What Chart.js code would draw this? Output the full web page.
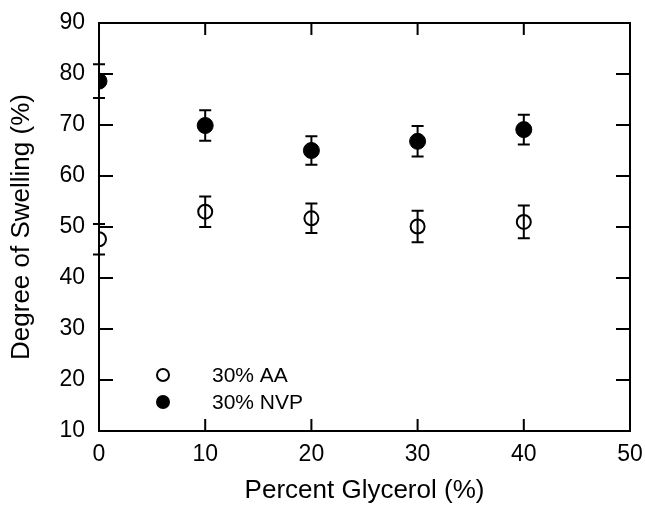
<!DOCTYPE html>
<html>
<head>
<meta charset="utf-8">
<script src="https://cdn.jsdelivr.net/npm/chart.js@4"></script>
<style>
  html, body { margin: 0; padding: 0; background: #fff; }
  #wrap { width: 645px; height: 506px; }
</style>
</head>
<body>
<div id="wrap"><canvas id="myChart"></canvas></div>
<script>
// --- données ---
const glycerol = [0, 10, 20, 30, 40];
const aaValues = [47.6, 53.0, 51.7, 50.1, 51.0];
const aaErr = [3.0, 3.0, 2.9, 3.1, 3.2];
const nvpValues = [78.6, 69.9, 65.0, 66.8, 69.1];
const nvpErr = [3.3, 3.0, 2.8, 3.0, 2.9];
const seriesLabels = ['30% AA', '30% NVP'];
const xTicks = [0, 10, 20, 30, 40, 50];
const yTicks = [10, 20, 30, 40, 50, 60, 70, 80, 90];

const FONT = "'Liberation Sans', Arial, sans-serif";

const toPoints = (xs, ys) => xs.map((x, i) => ({ x: x, y: ys[i] }));

// barres d'erreur, cadre, graduations internes et légende
const decorPlugin = {
    id: 'decor',
    afterDatasetsDraw(chart) {
        const { ctx, chartArea: a, scales: { x, y } } = chart;
        ctx.save();
        ctx.strokeStyle = '#000';
        ctx.lineWidth = 2;

        // barres d'erreur
        const errs = [aaErr, nvpErr];
        chart.data.datasets.forEach((ds, k) => {
            ds.data.forEach((p, i) => {
                const px = x.getPixelForValue(p.x);
                const top = y.getPixelForValue(p.y + errs[k][i]);
                const bot = y.getPixelForValue(p.y - errs[k][i]);
                ctx.beginPath();
                ctx.moveTo(px, top); ctx.lineTo(px, bot);
                ctx.moveTo(px - 6, top); ctx.lineTo(px + 6, top);
                ctx.moveTo(px - 6, bot); ctx.lineTo(px + 6, bot);
                ctx.stroke();
            });
        });

        // cadre
        ctx.strokeRect(a.left, a.top, a.right - a.left, a.bottom - a.top);

        // graduations vers l'intérieur
        ctx.beginPath();
        xTicks.slice(1, -1).forEach(v => {
            const px = x.getPixelForValue(v);
            ctx.moveTo(px, a.bottom); ctx.lineTo(px, a.bottom - 12);
            ctx.moveTo(px, a.top); ctx.lineTo(px, a.top + 12);
        });
        yTicks.slice(1, -1).forEach(v => {
            const py = y.getPixelForValue(v);
            ctx.moveTo(a.left, py); ctx.lineTo(a.left + 14, py);
            ctx.moveTo(a.right, py); ctx.lineTo(a.right - 14, py);
        });
        ctx.stroke();

        // légende
        const lx = 163, ly = [375, 402];
        ctx.font = '21px ' + FONT;
        ctx.fillStyle = '#000';
        ctx.textBaseline = 'middle';
        chart.data.datasets.forEach((ds, k) => {
            ctx.beginPath();
            ctx.arc(lx, ly[k], k === 1 ? 7 : 6, 0, Math.PI * 2);
            if (k === 1) ctx.fill(); else ctx.stroke();
            ctx.fillText(ds.label, 212, ly[k] + 1);
        });
        ctx.restore();
    }
};

new Chart(document.getElementById('myChart'), {
    type: 'scatter',
    data: {
        datasets: [{
            label: seriesLabels[0],
            data: toPoints(glycerol, aaValues),
            pointRadius: 7,
            pointHoverRadius: 7,
            pointBackgroundColor: 'rgba(0,0,0,0)',
            pointBorderColor: '#000',
            pointBorderWidth: 2
        }, {
            label: seriesLabels[1],
            data: toPoints(glycerol, nvpValues),
            pointRadius: 8,
            pointHoverRadius: 8,
            pointBackgroundColor: '#000',
            pointBorderColor: '#000',
            pointBorderWidth: 1
        }]
    },
    options: {
        responsive: true,
        maintainAspectRatio: false,
        animation: false,
        layout: { autoPadding: false, padding: { top: 23, right: 15, left: 0, bottom: 0 } },
        plugins: { legend: { display: false }, tooltip: { enabled: false } },
        scales: {
            x: {
                type: 'linear',
                min: 0,
                max: 50,
                afterFit: s => { s.height = 75; s.paddingLeft = 0; s.paddingRight = 0; },
                afterBuildTicks: s => { s.ticks = xTicks.map(v => ({ value: v })); },
                grid: { display: false, drawTicks: false },
                border: { display: false },
                ticks: { color: '#000', padding: 10, maxRotation: 0, font: { family: FONT, size: 23 } },
                title: {
                    display: true,
                    text: 'Percent Glycerol (%)',
                    color: '#000',
                    padding: { top: 0, bottom: 0 },
                    font: { family: FONT, size: 26 }
                }
            },
            y: {
                type: 'linear',
                min: 10,
                max: 90,
                afterFit: s => { s.width = 99; s.paddingTop = 0; s.paddingBottom = 0; },
                afterBuildTicks: s => { s.ticks = yTicks.map(v => ({ value: v })); },
                grid: { display: false, drawTicks: false },
                border: { display: false },
                ticks: { color: '#000', padding: 14, font: { family: FONT, size: 23 } },
                title: {
                    display: true,
                    text: 'Degree of Swelling (%)',
                    color: '#000',
                    padding: { top: 6, bottom: 0 },
                    font: { family: FONT, size: 26 }
                }
            }
        }
    },
    plugins: [decorPlugin]
});
</script>
</body>
</html>
